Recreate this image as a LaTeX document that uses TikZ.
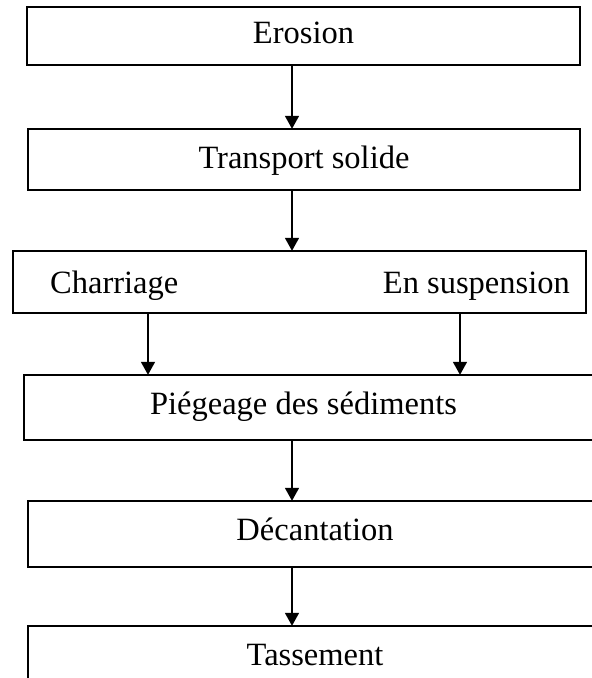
\documentclass[tikz,border=0pt]{standalone}
\usepackage{fontspec}
\setmainfont{Liberation Serif}
\usetikzlibrary{arrows.meta}
\begin{document}
\begin{tikzpicture}[x=1bp,y=-1bp,
  box/.style={draw=black, line width=2.4bp, inner sep=0pt},
  lbl/.style={anchor=base, inner sep=0pt, font=\fontsize{32.5bp}{37bp}\selectfont},
  flow/.style={line width=1.6bp, -{Triangle[length=13bp,width=14bp]}, shorten >=-1bp}]
\useasboundingbox (0,0) rectangle (592,678);
\clip (0,0) rectangle (592,678);
% boxes
\node[box, minimum width=553bp, minimum height=58bp] (b1) at (303.5,36) {};
\node[box, minimum width=552bp, minimum height=61bp] (b2) at (304,159.5) {};
\node[box, minimum width=573bp, minimum height=62bp] (b3) at (299.5,282) {};
\node[box, minimum width=596bp, minimum height=65bp] (b4) at (322,407.5) {};
\node[box, minimum width=592bp, minimum height=66bp] (b5) at (324,534) {};
\node[box, minimum width=592bp, minimum height=95bp] (b6) at (324,673.5) {};
% labels
\node[lbl] (t1) at (303.5,44) {Erosion};
\node[lbl] (t2) at (304,168) {Transport solide};
\node[lbl, anchor=base west] (t3a) at (50,293) {Charriage};
\node[lbl, anchor=base east] (t3b) at (570,293) {En suspension};
\node[lbl] (t4) at (303.5,414) {Piégeage des sédiments};
\node[lbl] (t5) at (315,540) {Décantation};
\node[lbl] (t6) at (315,665) {Tassement};
% arrows
\coordinate (x1) at (292,0);
\coordinate (xl) at (148,0);
\coordinate (xr) at (460,0);
\draw[flow] (b1.south -| x1) -- (b2.north -| x1);
\draw[flow] (b2.south -| x1) -- (b3.north -| x1);
\draw[flow] (b3.south -| xl) -- (b4.north -| xl);
\draw[flow] (b3.south -| xr) -- (b4.north -| xr);
\draw[flow] (b4.south -| x1) -- (b5.north -| x1);
\draw[flow] (b5.south -| x1) -- (b6.north -| x1);
\end{tikzpicture}
\end{document}
